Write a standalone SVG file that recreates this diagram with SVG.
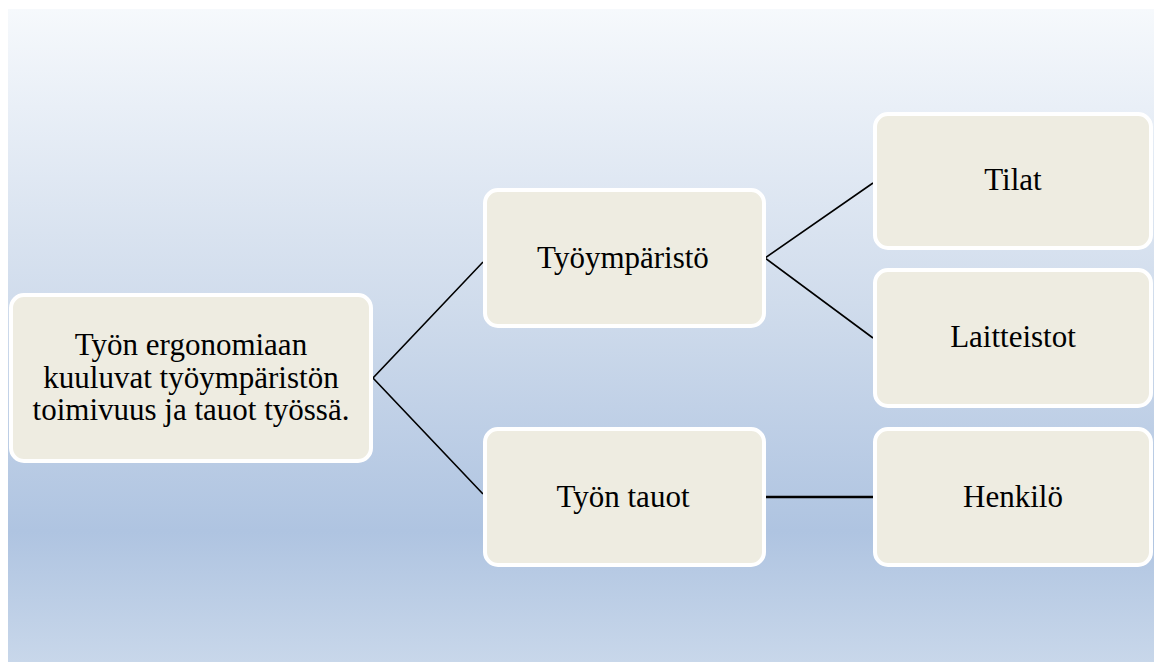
<svg xmlns="http://www.w3.org/2000/svg" width="1154" height="662" viewBox="0 0 1154 662">
  <defs>
    <linearGradient id="bg" x1="0" y1="0" x2="0" y2="1">
      <stop offset="0" stop-color="#f6f9fc"/>
      <stop offset="0.15" stop-color="#e9eff7"/>
      <stop offset="0.45" stop-color="#d0dcec"/>
      <stop offset="0.8" stop-color="#afc4e1"/>
      <stop offset="1" stop-color="#c8d7ea"/>
    </linearGradient>
    <style>
      .box { fill: #eeece1; stroke: #ffffff; stroke-width: 4; }
      .lbl { font-family: "Liberation Serif", "Times New Roman", serif; font-size: 31px; fill: #000000; text-anchor: middle; }
      .link { fill: none; stroke: #000000; stroke-width: 1.6; }
      .link-thick { fill: none; stroke: #000000; stroke-width: 2.6; }
    </style>
  </defs>

  <rect x="0" y="0" width="1154" height="662" fill="#ffffff"/>
  <rect x="8" y="9" width="1146" height="653" fill="url(#bg)"/>

  <g id="connectors">
    <polyline class="link" points="483,262 373,378 483,494"/>
    <polyline class="link" points="873,183 765,258 873,338"/>
    <line class="link-thick" x1="766" y1="497" x2="873" y2="497"/>
  </g>

  <g id="node-root">
    <rect class="box" x="11" y="295" width="360" height="166" rx="13"/>
    <text class="lbl" x="191" y="355">Työn ergonomiaan</text>
    <text class="lbl" x="191" y="388">kuuluvat työympäristön</text>
    <text class="lbl" x="191" y="420">toimivuus ja tauot työssä.</text>
  </g>

  <g id="node-tyoymparisto">
    <rect class="box" x="485" y="190" width="279" height="136" rx="13"/>
    <text class="lbl" x="623" y="268">Työympäristö</text>
  </g>

  <g id="node-tyon-tauot">
    <rect class="box" x="485" y="429" width="279" height="136" rx="13"/>
    <text class="lbl" x="623" y="507">Työn tauot</text>
  </g>

  <g id="node-tilat">
    <rect class="box" x="875" y="114" width="276" height="134" rx="13"/>
    <text class="lbl" x="1013" y="190">Tilat</text>
  </g>

  <g id="node-laitteistot">
    <rect class="box" x="875" y="270" width="276" height="136" rx="13"/>
    <text class="lbl" x="1013" y="347">Laitteistot</text>
  </g>

  <g id="node-henkilo">
    <rect class="box" x="875" y="429" width="276" height="136" rx="13"/>
    <text class="lbl" x="1013" y="507">Henkilö</text>
  </g>
</svg>
